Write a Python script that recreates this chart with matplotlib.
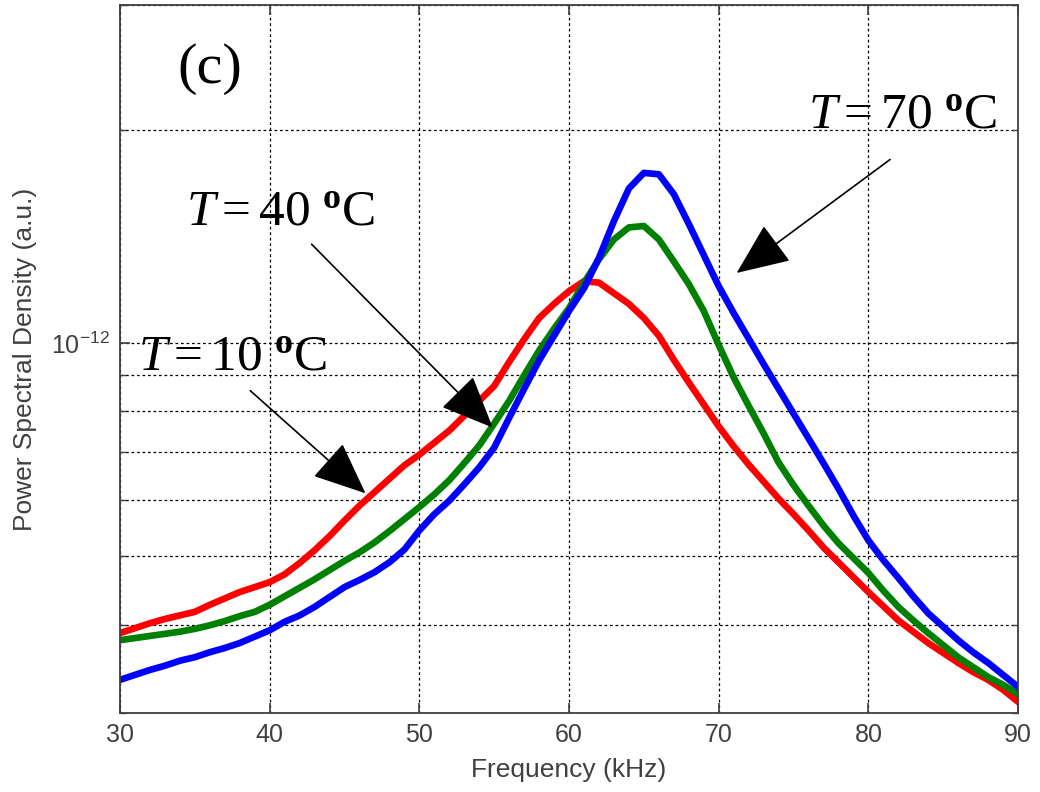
import numpy as np
import matplotlib.pyplot as plt
from matplotlib.ticker import LogLocator, NullFormatter, FixedLocator, FixedFormatter

plt.rcParams['mathtext.fontset'] = 'custom'
plt.rcParams['mathtext.rm'] = 'Liberation Serif'
plt.rcParams['mathtext.it'] = 'Liberation Serif:italic'
plt.rcParams['mathtext.bf'] = 'Liberation Serif:bold'

# frequency axis, kHz
freq = np.arange(30, 91, 1)

# log10 of PSD (a.u.) at each kHz
log_psd_10C = [
    -12.410, -12.403, -12.396, -12.390, -12.385, -12.380, -12.370, -12.361, -12.352, -12.345,
    -12.338, -12.327, -12.311, -12.293, -12.273, -12.251, -12.230, -12.211, -12.192, -12.173,
    -12.158, -12.141, -12.124, -12.103, -12.082, -12.061, -12.027, -11.995, -11.965, -11.945,
    -11.927, -11.913, -11.915, -11.930, -11.945, -11.965, -11.990, -12.024, -12.056, -12.087,
    -12.118, -12.146, -12.172, -12.196, -12.220, -12.242, -12.265, -12.289, -12.310, -12.331,
    -12.352, -12.372, -12.392, -12.408, -12.424, -12.438, -12.452, -12.465, -12.476, -12.490,
    -12.507]
log_psd_40C = [
    -12.420, -12.417, -12.414, -12.411, -12.408, -12.404, -12.399, -12.393, -12.386, -12.380,
    -12.370, -12.358, -12.346, -12.334, -12.321, -12.308, -12.296, -12.282, -12.266, -12.249,
    -12.232, -12.214, -12.194, -12.170, -12.145, -12.114, -12.082, -12.046, -12.011, -11.980,
    -11.951, -11.915, -11.882, -11.854, -11.837, -11.835, -11.854, -11.885, -11.917, -11.955,
    -12.003, -12.049, -12.089, -12.128, -12.169, -12.201, -12.230, -12.258, -12.283, -12.304,
    -12.325, -12.350, -12.373, -12.392, -12.410, -12.427, -12.444, -12.458, -12.472, -12.483,
    -12.496]
log_psd_70C = [
    -12.476, -12.469, -12.462, -12.456, -12.449, -12.444, -12.437, -12.431, -12.424, -12.415,
    -12.406, -12.394, -12.385, -12.373, -12.359, -12.345, -12.335, -12.324, -12.310, -12.292,
    -12.265, -12.242, -12.223, -12.200, -12.176, -12.148, -12.106, -12.065, -12.025, -11.990,
    -11.955, -11.923, -11.880, -11.828, -11.782, -11.760, -11.762, -11.790, -11.832, -11.876,
    -11.920, -11.958, -11.994, -12.030, -12.065, -12.100, -12.135, -12.170, -12.206, -12.244,
    -12.279, -12.307, -12.332, -12.358, -12.382, -12.401, -12.420, -12.437, -12.452, -12.469,
    -12.486]

fig = plt.figure(figsize=(10.4, 7.92), dpi=100)
ax = fig.add_axes([0.1154, 0.0997, 0.8635, 0.894])

ax.semilogy(freq, 10 ** np.array(log_psd_10C), color='#ff0000', lw=4.8)
ax.semilogy(freq, 10 ** np.array(log_psd_40C), color='#008000', lw=4.8)
ax.semilogy(freq, 10 ** np.array(log_psd_70C), color='#0000ff', lw=4.8)

ax.set_xlim(30, 90)
ax.set_ylim(3e-13, 3e-12)
ax.set_xticks(np.arange(30, 91, 10))
ax.yaxis.set_major_locator(FixedLocator([1e-12]))
ax.yaxis.set_major_formatter(FixedFormatter([r'$\mathregular{10^{-12}}$']))
ax.yaxis.set_minor_locator(LogLocator(base=10, subs=np.arange(2, 10)))
ax.yaxis.set_minor_formatter(NullFormatter())

gridkw = dict(color='black', linestyle=(0, (2.2, 2.2)), linewidth=0.9)
ax.grid(True, which='major', axis='x', **gridkw)
ax.grid(True, which='both', axis='y', **gridkw)

for s in ax.spines.values():
    s.set_color('#404040')
    s.set_linewidth(1.3)
ax.tick_params(which='both', direction='in', top=True, right=True,
               colors='#404040', labelsize=18, pad=7,
               labelfontfamily='Liberation Sans')
ax.tick_params(which='major', length=7, width=1.2)
ax.tick_params(which='minor', length=4, width=1.0)

ax.set_xlabel('Frequency (kHz)', fontsize=19, color='#404040', family='Liberation Sans')
ax.set_ylabel('Power Spectral Density (a.u.)', fontsize=19, color='#404040', family='Liberation Sans')
ax.xaxis.set_label_coords(0.5, -0.064)
ax.yaxis.set_label_coords(-0.092, 0.5)

txt = dict(fontsize=37, color='black', ha='center', va='center')
ax.text(0.10, 0.91, '(c)', transform=ax.transAxes, family='Liberation Serif',
        fontsize=42, color='black', ha='center', va='center')
ax.text(82.3, 2.10e-12, r'$T = 70\ ^{\mathbf{o}}\mathrm{C}$', **txt)
ax.text(40.7, 1.535e-12, r'$T = 40\ ^{\mathbf{o}}\mathrm{C}$', **txt)
ax.text(37.5, 9.58e-13, r'$T = 10\ ^{\mathbf{o}}\mathrm{C}$', **txt)

arrow = dict(arrowstyle='-|>,head_length=1.4,head_width=0.6', color='black',
             lw=1.2, mutation_scale=24, shrinkA=0, shrinkB=0)
ax.annotate('', xy=(71.2, 1.255e-12), xytext=(81.45, 1.815e-12), arrowprops=arrow)
ax.annotate('', xy=(54.9, 7.59e-13), xytext=(42.8, 1.378e-12), arrowprops=arrow)
ax.annotate('', xy=(46.4, 6.13e-13), xytext=(38.7, 8.56e-13), arrowprops=arrow)

fig.savefig('out.png', dpi=100)
